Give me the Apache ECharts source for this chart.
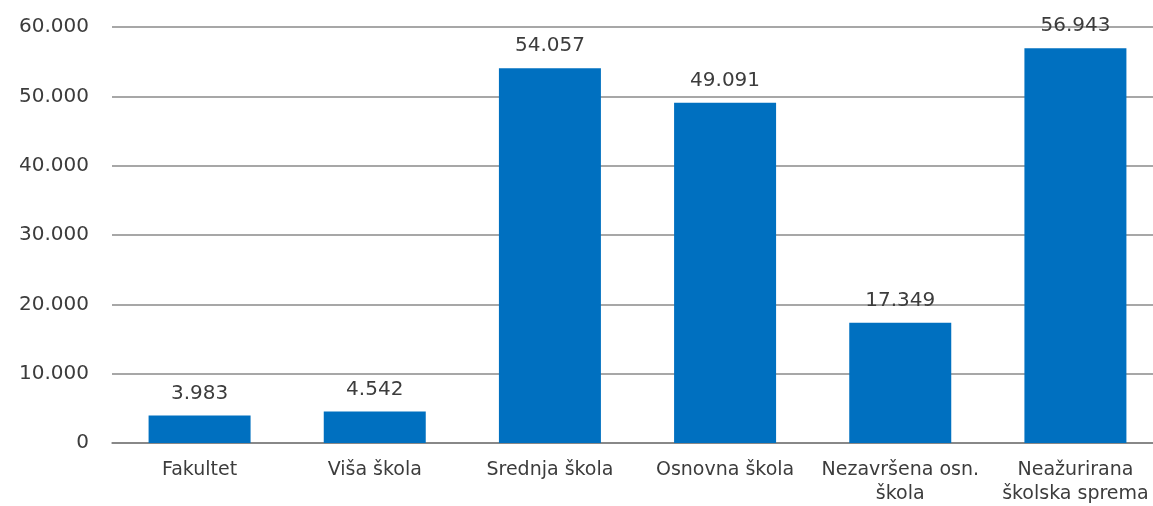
<!DOCTYPE html>
<html><head><meta charset="utf-8">
<script src="https://cdn.jsdelivr.net/npm/echarts@6/dist/echarts.min.js"></script>
<style>html,body{margin:0;padding:0;background:#fff;overflow:hidden;width:1153px;height:506px}#c{width:1163px;height:506px}</style>
</head><body><div id="c"></div>
<script>
const categories = ['Fakultet', 'Viša škola', 'Srednja škola', 'Osnovna škola', 'Nezavršena osn.\nškola', 'Neažurirana\nškolska sprema'];
const values = [3983, 4542, 54057, 49091, 17349, 56943];
const yTicks = [0, 10000, 20000, 30000, 40000, 50000, 60000];

const fmt = v => v === 0 ? '0' : String(v).replace(/\B(?=(\d{3})+(?!\d))/g, '.');
const font = '"DejaVu Sans", sans-serif';
const chart = echarts.init(document.getElementById('c'));
chart.setOption({
  animation: false,
  grid: { left: 112, right: 0, top: 27, height: 416, containLabel: false },
  xAxis: {
    type: 'category', data: categories,
    axisLine: { lineStyle: { color: '#7f7f7f', width: 1.5 } },
    axisTick: { show: false },
    axisLabel: { color: '#3c3c3c', fontFamily: font, fontSize: 19, margin: 15, lineHeight: 24, interval: 0 }
  },
  yAxis: {
    type: 'value', min: yTicks[0], max: yTicks[yTicks.length - 1], interval: 10000,
    axisLine: { show: false }, axisTick: { show: false },
    axisLabel: { color: '#3c3c3c', fontFamily: font, fontSize: 20, margin: 23, formatter: fmt },
    splitLine: { lineStyle: { color: '#8a8a8a', width: 1.5 } }
  },
  series: [{
    type: 'bar', data: values, barWidth: 102,
    itemStyle: { color: '#0070C0' },
    label: { show: true, position: 'top', distance: 12, color: '#3c3c3c', fontFamily: font, fontSize: 20, formatter: p => fmt(p.value) }
  }]
});
</script></body></html>
